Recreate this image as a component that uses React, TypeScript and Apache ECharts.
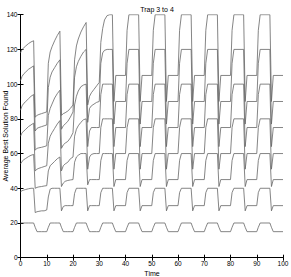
import React, { useEffect, useRef } from "react";
import * as echarts from "echarts";

// Sample times shared by all curves (breakpoints)
const T = [
  0, 0.6, 1.3, 2, 3, 4,
  5, 5.6, 6.3, 7, 8, 9,
  10, 10.6, 11.3, 12, 13, 14,
  15, 15.6, 16.3, 17, 18, 19,
  20, 20.6, 21.3, 22, 23, 24,
  25, 25.6, 26.3, 27, 28, 29,
  30, 30.6, 31.3, 32, 33, 34,
  35, 35.6, 36.3, 40, 40.6, 41.3, 45, 45.6, 46.3, 50, 50.6, 51.3,
  55, 55.6, 56.3, 60, 60.6, 61.3, 65, 65.6, 66.3, 70, 70.6, 71.3,
  75, 75.6, 76.3, 80, 80.6, 81.3, 85, 85.6, 86.3, 90, 90.6, 91.3,
  95, 95.6, 96.3, 100,
];

const line1 = [
  20, 20, 20, 20, 20, 20,
  20, 17.5, 15, 15, 15, 15,
  15, 17.5, 20, 20, 20, 20,
  20, 17.5, 15, 15, 15, 15,
  15, 17.5, 20, 20, 20, 20,
  20, 17.5, 15, 15, 15, 15,
  15, 17.5, 20, 20, 20, 20,
  20, 17.5, 15, 15, 17.5, 20, 20, 17.5, 15, 15, 17.5, 20,
  20, 17.5, 15, 15, 17.5, 20, 20, 17.5, 15, 15, 17.5, 20,
  20, 17.5, 15, 15, 17.5, 20, 20, 17.5, 15, 15, 17.5, 20,
  20, 17.5, 15, 15,
];

const line2 = [
  38, 38.6, 39, 39.3, 39.7, 40,
  40, 26, 26.5, 26.7, 27, 27,
  27.5, 35, 39.5, 40, 40, 40,
  40, 27, 29.5, 30, 30, 30,
  30, 37, 40, 40, 40, 40,
  40, 27, 30, 30, 30, 30,
  30, 37.5, 40, 40, 40, 40,
  40, 27, 30, 30, 37.5, 40, 40, 27, 30, 30, 37.5, 40,
  40, 27, 30, 30, 37.5, 40, 40, 27, 30, 30, 37.5, 40,
  40, 27, 30, 30, 37.5, 40, 40, 27, 30, 30, 37.5, 40,
  40, 27, 30, 30,
];

const line3 = [
  54, 55.5, 56.5, 57.2, 58.2, 59,
  59.5, 40, 40.5, 40.8, 41, 41.3,
  41.5, 50, 53, 54, 55.5, 57,
  58, 41, 43, 44, 44.5, 44.8,
  45, 55, 58, 59, 60, 60,
  60, 42, 45, 45, 45, 45,
  45, 56, 60, 60, 60, 60,
  60, 41, 45, 45, 56, 60, 60, 41, 45, 45, 56, 60,
  60, 41, 45, 45, 56, 60, 60, 41, 45, 45, 56, 60,
  60, 41, 45, 45, 56, 60, 60, 41, 45, 45, 56, 60,
  60, 41, 45, 45,
];

const line4 = [
  70, 72, 73, 74, 75.5, 76.5,
  77.5, 50, 51, 51.5, 52, 52.5,
  53, 66, 70, 72, 74.5, 77,
  79, 50, 53, 54, 55, 57,
  58, 70, 74, 76, 78, 79.5,
  80, 51, 58, 59.5, 60, 60,
  60, 75, 80, 80, 80, 80,
  80, 51, 60, 60, 75, 80, 80, 51, 60, 60, 75, 80,
  80, 51, 60, 60, 75, 80, 80, 51, 60, 60, 75, 80,
  80, 51, 60, 60, 75, 80, 80, 51, 60, 60, 75, 80,
  80, 51, 60, 60,
];

const line5 = [
  85, 87.5, 89, 90, 91.5, 93,
  94, 62, 63, 63.3, 63.6, 64,
  64.5, 82, 86, 88.5, 92, 94.5,
  96.5, 63, 65, 66, 67, 69,
  72, 88, 93, 96, 98.5, 99.5,
  100, 64, 73, 75, 75, 75,
  75, 94, 100, 100, 100, 100,
  100, 64, 75, 75, 94, 100, 100, 64, 75, 75, 94, 100,
  100, 64, 75, 75, 94, 100, 100, 64, 75, 75, 94, 100,
  100, 64, 75, 75, 94, 100, 100, 64, 75, 75, 94, 100,
  100, 64, 75, 75,
];

const line6 = [
  102, 104.5, 106, 107, 108.5, 109.5,
  110.5, 73, 74.5, 75, 75.5, 76,
  76.5, 98, 104, 107, 109.5, 112,
  114, 74, 76, 77, 78.5, 81,
  84, 104, 110, 113, 116, 118.5,
  120, 78, 86, 87.5, 88.5, 89.5,
  90, 112, 118, 119.5, 120, 120,
  120, 77, 90, 90, 112, 120, 120, 77, 90, 90, 112, 120,
  120, 77, 90, 90, 112, 120, 120, 77, 90, 90, 112, 120,
  120, 77, 90, 90, 112, 120, 120, 77, 90, 90, 112, 120,
  120, 77, 90, 90,
];

const line7 = [
  118, 120, 121, 122, 123.3, 124.3,
  125, 81, 82, 82.5, 83, 83.5,
  84, 112, 118.5, 121.5, 125, 128,
  130.5, 82, 83, 83.5, 84.5, 86,
  88, 114, 122, 126, 130, 133,
  135.5, 88, 93, 95, 97, 99,
  101, 124, 132, 137, 139.5, 140,
  140, 90, 105, 105, 131, 140, 140, 90, 105, 105, 131, 140,
  140, 90, 105, 105, 131, 140, 140, 90, 105, 105, 131, 140,
  140, 90, 105, 105, 131, 140, 140, 90, 105, 105, 131, 140,
  140, 90, 105, 105,
];

const lines = [line1, line2, line3, line4, line5, line6, line7];

const X_TICKS = { min: 0, max: 100, interval: 10 };
const Y_TICKS = { min: 0, max: 140, interval: 20 };

const FONT = "Liberation Sans";

export default function App() {
  const ref = useRef<HTMLDivElement>(null);
  useEffect(() => {
    if (!ref.current) return;
    const chart = echarts.init(ref.current, undefined, { renderer: "svg" });
    const axisCommon = {
      axisLine: { show: true, lineStyle: { color: "#000", width: 1 } },
      axisTick: { show: true, inside: true, length: 3, lineStyle: { color: "#000" } },
      splitLine: { show: false },
    };
    chart.setOption({
      animation: false,
      backgroundColor: "#fff",
      title: {
        text: "Trap 3 to 4",
        left: 152,
        top: 1,
        textAlign: "center",
        textStyle: { fontSize: 7, fontWeight: "normal", color: "#000", fontFamily: FONT },
      },
      grid: {
        left: 20.5,
        right: 8,
        top: 14.7,
        bottom: 19.3,
        containLabel: false,
        outerBoundsMode: "none",
      },
      xAxis: [
        {
          type: "value",
          ...X_TICKS,
          position: "bottom",
          ...axisCommon,
          axisLabel: { fontSize: 6.5, color: "#000", margin: 2.5, fontFamily: FONT },
        },
        {
          type: "value",
          ...X_TICKS,
          position: "top",
          ...axisCommon,
          axisLabel: { show: false },
        },
      ],
      yAxis: [
        {
          type: "value",
          ...Y_TICKS,
          position: "left",
          ...axisCommon,
          axisLabel: { fontSize: 6.5, color: "#000", margin: 3, fontFamily: FONT },
        },
        {
          type: "value",
          ...Y_TICKS,
          position: "right",
          ...axisCommon,
          axisLabel: { show: false },
        },
      ],
      graphic: [
        {
          type: "text",
          x: 152,
          y: 273.5,
          style: {
            text: "Time",
            fontSize: 7,
            fontFamily: FONT,
            fill: "#000",
            textAlign: "center",
            textVerticalAlign: "middle",
          },
        },
        {
          type: "text",
          x: 5,
          y: 136,
          rotation: Math.PI / 2,
          style: {
            text: "Average Best Solution Found",
            fontSize: 7,
            fontFamily: FONT,
            fill: "#000",
            textAlign: "center",
            textVerticalAlign: "middle",
          },
        },
      ],
      series: lines.map((vals, k) => ({
        type: "line",
        name: "run" + (k + 1),
        data: T.map((t, i) => [t, vals[i]]),
        showSymbol: false,
        symbol: "none",
        clip: true,
        lineStyle: { color: "#666", width: 0.8 },
        xAxisIndex: 0,
        yAxisIndex: 0,
      })),
    });
    return () => chart.dispose();
  }, []);
  return (
    <div
      ref={ref}
      style={{ position: "fixed", left: 0, top: 0, width: 291, height: 277 }}
    />
  );
}
